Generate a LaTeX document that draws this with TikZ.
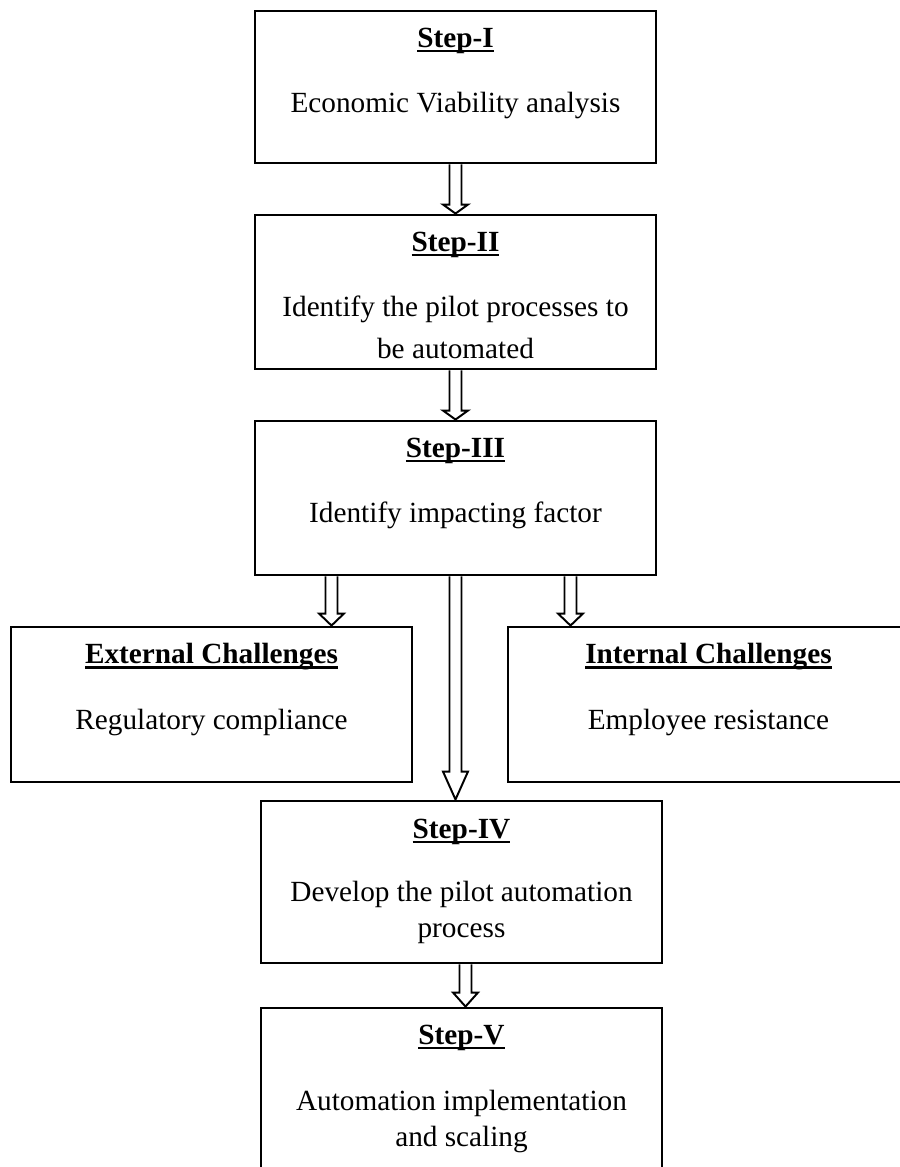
\documentclass[tikz,border=0pt]{standalone}
\usepackage{fontspec}
\setmainfont{Liberation Serif}
\usetikzlibrary{calc,positioning}

\newlength\pxu
\setlength\pxu{0.41pt}
\newlength\ulw

% bold title with a heavy underline
\newcommand{\ultitle}[1]{\settowidth\ulw{\bfseries #1}%
  {\bfseries #1}\llap{\rule[-2.2pt]{\ulw}{1pt}}}

\tikzset{
  stepbox/.style={draw=black,line width=1.2pt,minimum width=401\pxu,inner sep=0pt},
  arrowline/.style={draw=black,fill=white,line width=0.8pt,line join=miter},
  every node/.append style={font=\fontsize{12}{14}\selectfont},
}

% hollow block arrow pointing down, from #2 to #3, head length #1
\newcommand{\hollowarrow}[3][12]{%
  \draw[arrowline] ($(#2)+(-6,0)$) -- ($(#3)+(-6,-#1)$) -- ($(#3)+(-12.5,-#1)$)
    -- (#3) -- ($(#3)+(12.5,-#1)$) -- ($(#3)+(6,-#1)$) -- ($(#2)+(6,0)$);}

\begin{document}
\begin{tikzpicture}[x=0.41pt,y=-0.41pt]
    \useasboundingbox (0,0) rectangle (899,1167);
    \begin{scope}
        % boxes
        \begin{scope}[every node/.style={stepbox}]
          \node[minimum height=152\pxu] (s1) at (455.5,87) {};
          \node[minimum height=154\pxu] (s2) at (455.5,292) {};
          \node[minimum height=154\pxu] (s3) at (455.5,498) {};
          \node[minimum height=155\pxu] (ext) at (211.5,704.5) {};
          \node[minimum height=155\pxu] (int) at (708.5,704.5) {};
          \node[minimum height=162\pxu] (s4) at (461.5,882) {};
          \node[minimum height=172\pxu] (s5) at (461.5,1094) {};
        \end{scope}
        % texts
        \node (t1) at ($(s1.north)+(0,31)$) {\ultitle{Step-I}};
        \node (b1) at ($(s1.north)+(0,96)$) {Economic Viability analysis};
        \node (t2) at ($(s2.north)+(0,31)$) {\ultitle{Step-II}};
        \node (b2) at ($(s2.north)+(0,96)$) {Identify the pilot processes to};
        \node (c2) at ($(s2.north)+(0,135)$) {be automated};
        \node (t3) at ($(s3.north)+(0,31)$) {\ultitle{Step-III}};
        \node (b3) at ($(s3.north)+(0,96)$) {Identify impacting factor};
        \node (te) at ($(ext.north)+(0,31)$) {\ultitle{External Challenges}};
        \node (be) at ($(ext.north)+(0,97)$) {Regulatory compliance};
        \node (ti) at ($(int.north)+(0,31)$) {\ultitle{Internal Challenges}};
        \node (bi) at ($(int.north)+(0,97)$) {Employee resistance};
        \node (t4) at ($(s4.north)+(0,32)$) {\ultitle{Step-IV}};
        \node (b4) at ($(s4.north)+(0,95)$) {Develop the pilot automation};
        \node (c4) at ($(s4.north)+(0,134)$) {process};
        \node (t5) at ($(s5.north)+(0,31)$) {\ultitle{Step-V}};
        \node (b5) at ($(s5.north)+(0,97)$) {Automation implementation};
        \node (c5) at ($(s5.north)+(0,133)$) {and scaling};
        % arrows
        \coordinate (a3l) at ($(s3.south)+(-124,0)$);
        \coordinate (a3r) at ($(s3.south)+(115,0)$);
        \coordinate (a3e) at (a3l |- ext.north);
        \coordinate (a3i) at (a3r |- int.north);
        \coordinate (a3m) at (s3.south |- s4.north);
        \coordinate (a4) at ($(s4.south)+(4,0)$);
        \coordinate (a5) at (a4 |- s5.north);
        \hollowarrow[9]{s1.south}{s2.north}
        \hollowarrow[9]{s2.south}{s3.north}
        \hollowarrow{a3l}{a3e}
        \hollowarrow{a3r}{a3i}
        \hollowarrow[28]{s3.south}{a3m}
        \hollowarrow[14]{a4}{a5}
    \end{scope}
\end{tikzpicture}
\end{document}
